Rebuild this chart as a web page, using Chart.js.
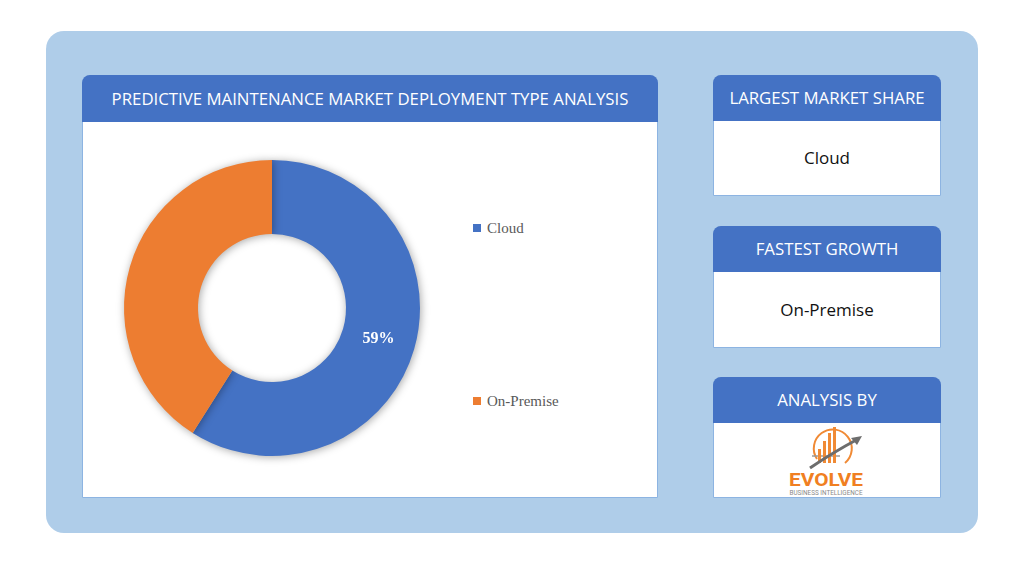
<!DOCTYPE html>
<html>
<head>
<meta charset="utf-8">
<script src="https://cdn.jsdelivr.net/npm/chart.js@4"></script>
<style>
  body { margin: 0; width: 1024px; height: 576px; background: #fff; position: relative; overflow: hidden; font-family: "Open Sans", sans-serif; }
  .frame { position: absolute; left: 46px; top: 31px; width: 932px; height: 502px; background: #AFCDE9; border-radius: 18px; }
  .card { position: absolute; background: #fff; border: 1px solid #8DB4E2; border-radius: 9px 9px 0 0; box-sizing: border-box; }
  .head { background: #4472C4; color: #fff; border-radius: 8px 8px 0 0; text-align: center; font-size: 16.8px; margin: -1px -1px 0 -1px; }
  .body { text-align: center; color: #111; font-size: 17px; }
  #chartBox { position: absolute; left: 83px; top: 122px; width: 378px; height: 372px; }
  #legend { position: absolute; left: 473px; top: 218px; font-family: "Liberation Serif", serif; font-size: 15px; color: #595959; }
  #legend div { display: flex; align-items: center; height: 20px; margin-bottom: 153px; }
  #legend span.box { width: 8px; height: 8px; margin-right: 6px; }
</style>
</head>
<body>
<div class="frame"></div>

<div class="card" style="left:82px;top:75px;width:576px;height:423px;">
  <div class="head" style="height:47px;line-height:47px;">PREDICTIVE MAINTENANCE MARKET DEPLOYMENT TYPE ANALYSIS</div>
</div>

<div class="card" style="left:713px;top:75px;width:228px;height:121px;">
  <div class="head" style="height:46px;line-height:46px;">LARGEST MARKET SHARE</div>
  <div class="body" style="line-height:74px;">Cloud</div>
</div>
<div class="card" style="left:713px;top:226px;width:228px;height:122px;">
  <div class="head" style="height:46px;line-height:46px;">FASTEST GROWTH</div>
  <div class="body" style="line-height:75px;">On-Premise</div>
</div>
<div class="card" style="left:713px;top:377px;width:228px;height:121px;">
  <div class="head" style="height:46px;line-height:46px;">ANALYSIS BY</div>
  <svg width="226" height="74" style="display:block">
    <path d="M 103 36 A 19 19 0 1 1 131 40" fill="none" stroke="#F08A35" stroke-width="2"/>
    <line x1="98" y1="33" x2="126" y2="33" stroke="#9a9a9a" stroke-width="1.5"/>
    <rect x="104" y="26" width="3" height="14" fill="#F08A35"/>
    <rect x="109" y="18" width="3" height="22" fill="#F08A35"/>
    <rect x="114" y="10" width="3" height="30" fill="#F08A35"/>
    <rect x="119" y="4" width="3" height="36" fill="#F08A35"/>
    <path d="M 96 45 Q 118 30 144 16" fill="none" stroke="#6d6d6d" stroke-width="3"/>
    <polygon points="148,13 137,15 143,22" fill="#6d6d6d"/>
    <text x="112" y="63" text-anchor="middle" font-family="Roboto, sans-serif" font-weight="700" font-size="18" fill="#F07F22" textLength="74" lengthAdjust="spacingAndGlyphs">EVOLVE</text>
    <text x="112" y="72" text-anchor="middle" font-family="Roboto, sans-serif" font-size="6.5" fill="#8a8a8a" textLength="73" lengthAdjust="spacingAndGlyphs">BUSINESS INTELLIGENCE</text>
  </svg>
</div>

<div id="chartBox"><canvas id="chart"></canvas></div>
<div id="legend"></div>

<script>
const categories = ["Cloud", "On-Premise"];
const shares = [59, 41];
const sliceLabels = ["59%", ""];
const colors = ["#4472C4", "#ED7D31"];

const shadowPlugin = {
    id: "shadow",
    beforeDatasetsDraw(chart) {
        const ctx = chart.ctx;
        ctx.save();
        ctx.shadowColor = "rgba(0,0,0,0.35)";
        ctx.shadowBlur = 9;
        ctx.shadowOffsetX = 1;
        ctx.shadowOffsetY = 1;
    },
    afterDatasetsDraw(chart) {
        chart.ctx.restore();
    }
};

const labelPlugin = {
    id: "sliceLabels",
    afterDatasetsDraw(chart) {
        const ctx = chart.ctx;
        chart.getDatasetMeta(0).data.forEach((arc, i) => {
            if (!sliceLabels[i]) return;
            const pos = arc.tooltipPosition();
            ctx.save();
            ctx.fillStyle = "#fff";
            ctx.font = "bold 16px 'Liberation Serif', serif";
            ctx.textAlign = "center";
            ctx.textBaseline = "middle";
            ctx.fillText(sliceLabels[i], pos.x, pos.y);
            ctx.restore();
        });
    }
};

const htmlLegend = {
    id: "htmlLegend",
    afterUpdate(chart) {
        const items = chart.options.plugins.legend.labels.generateLabels(chart);
        document.getElementById("legend").innerHTML = items.map(item => `<div><span class="box" style="background:${item.fillStyle}"></span>${item.text}</div>`).join("");
    }
};

new Chart(document.getElementById("chart"), {
    type: "doughnut",
    data: { labels: categories, datasets: [{ data: shares, backgroundColor: colors, borderWidth: 0, hoverOffset: 0 }] },
    options: {
        responsive: true,
        maintainAspectRatio: false,
        animation: false,
        cutout: "50%",
        layout: { padding: 38 },
        plugins: { legend: { display: false }, tooltip: { enabled: false } }
    },
    plugins: [shadowPlugin, labelPlugin, htmlLegend]
});
</script>
</body>
</html>
